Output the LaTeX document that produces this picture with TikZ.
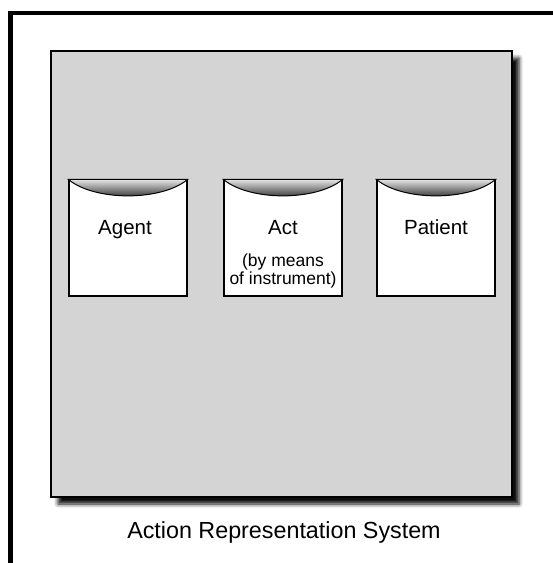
\documentclass[tikz,border=0pt]{standalone}
\usepackage{fontspec}
\setmainfont{Liberation Sans}
\usetikzlibrary{shadows.blur}

\begin{document}
\begin{tikzpicture}[x=1pt,y=-1pt,
  panel/.style={draw,line width=1.6pt,fill=black!17,minimum width=461pt,minimum height=446pt,
    blur shadow={shadow xshift=7pt,shadow yshift=-7pt,shadow blur radius=4pt,shadow opacity=95}},
  slot/.style={draw,line width=1.3pt,fill=white,minimum width=118pt,minimum height=116pt,inner sep=0pt},
  lid/.style={top color=black!10,middle color=black!55,bottom color=black!95,draw=black,line width=1pt},
  lbl/.style={anchor=base,inner sep=0pt,font=\fontsize{20.5}{22}\selectfont},
  note/.style={anchor=north,inner sep=0pt,align=center,font=\fontsize{17.5}{15.5}\selectfont}]
  \clip (0,0) rectangle (553,563);
  % outer frame runs off the page on the right and bottom
  \draw[line width=4.5pt] (10.3,13) rectangle (575,585);
  \node[panel] (sys) at (281.5,274) {};
  \node[slot] (agent) at (128,238) {};
  \node[slot] (act) at (283,238) {};
  \node[slot] (patient) at (436,238) {};
  \shade[lid] (agent.north west) .. controls +(26,22) and +(-26,22) .. (agent.north east) -- cycle;
  \shade[lid] (act.north west) .. controls +(26,22) and +(-26,22) .. (act.north east) -- cycle;
  \shade[lid] (patient.north west) .. controls +(26,22) and +(-26,22) .. (patient.north east) -- cycle;
  \node[lbl] (agentlbl) at (125,234) {Agent};
  \node[lbl] (actlbl) at (283,234) {Act};
  \node[note] (actnote) at (283,254) {(by means\\of instrument)};
  \node[lbl] (patientlbl) at (436,234) {Patient};
  \node[lbl,font=\fontsize{23.3}{26}\selectfont] (title) at (284,538) {Action Representation System};
\end{tikzpicture}
\end{document}
